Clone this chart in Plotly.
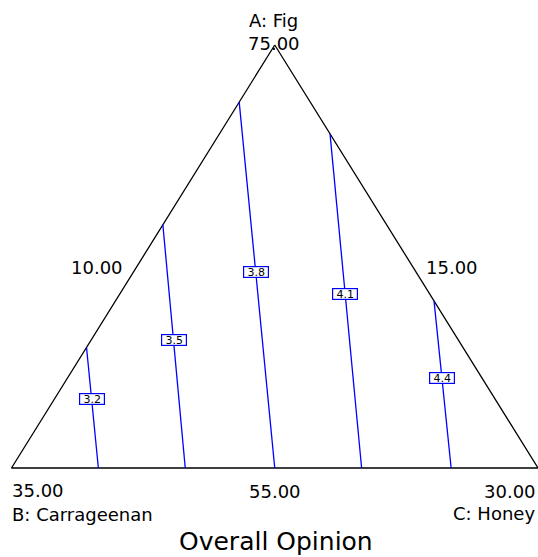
import plotly.graph_objects as go

# Mixture region (percent): A: Fig 55-75, B: Carrageenan 15-35, C: Honey 10-30
fig_lo, fig_hi = 55.0, 75.0
carr_lo, carr_hi = 15.0, 35.0
honey_lo, honey_hi = 10.0, 30.0
span = fig_hi - fig_lo

# Overall Opinion contour levels and the blends where each contour meets the region boundary
levels = [3.2, 3.5, 3.8, 4.1, 4.4]
start_fig = [60.7, 66.5, 72.3, 70.8, 62.9]
start_carr = [29.3, 23.5, 17.7, 15.0, 15.0]
start_honey = [10.0, 10.0, 10.0, 14.2, 22.1]
end_fig = [55.0, 55.0, 55.0, 55.0, 55.0]
end_carr = [31.7, 28.4, 25.0, 21.7, 18.3]
end_honey = [13.3, 16.6, 20.0, 23.3, 26.7]
label_frac = [0.43, 0.475, 0.463, 0.478, 0.464]

# Vertex and edge values printed around the simplex
vertex_fig = "75.00"
vertex_carr = "35.00"
vertex_honey = "30.00"
edge_ab = "10.00"   # Honey held at its minimum along the Fig-Carrageenan edge
edge_ac = "15.00"   # Carrageenan at its minimum along the Fig-Honey edge
edge_bc = "55.00"   # Fig at its minimum along the Carrageenan-Honey edge

W, H = 538, 557


def to_xy(a, b, c):
    """Project a blend (Fig, Carrageenan, Honey) onto the 2-D simplex."""
    ap = (a - fig_lo) / span
    cp = (c - honey_lo) / span
    return cp + ap / 2.0, ap


def px(x):
    return x / W


def py(y):
    return 1 - y / H


fig = go.Figure()

# Simplex outline
tri = [(fig_hi, carr_lo, honey_lo), (fig_lo, carr_hi, honey_lo),
       (fig_lo, carr_lo, honey_hi), (fig_hi, carr_lo, honey_lo)]
tx, ty = zip(*[to_xy(*p) for p in tri])
fig.add_trace(go.Scatter(x=tx, y=ty, mode="lines",
                         line=dict(color="black", width=1.3),
                         hoverinfo="skip", showlegend=False))

annotations = []
for i, lev in enumerate(levels):
    x0, y0 = to_xy(start_fig[i], start_carr[i], start_honey[i])
    x1, y1 = to_xy(end_fig[i], end_carr[i], end_honey[i])
    fig.add_trace(go.Scatter(x=[x0, x1], y=[y0, y1], mode="lines",
                             line=dict(color="#0000ff", width=1.3),
                             name=f"{lev:.1f}", showlegend=False))
    t = label_frac[i]
    annotations.append(dict(
        x=x0 + (x1 - x0) * t, y=y0 + (y1 - y0) * t, xref="x", yref="y",
        text=f"{lev:.1f}", showarrow=False,
        font=dict(family="DejaVu Sans", size=11, color="black"),
        bgcolor="white", bordercolor="#0000ff", borderwidth=1.2, borderpad=0,
        width=24, height=10,
    ))

small = dict(family="DejaVu Sans", size=18, color="black")
text_items = [
    ("A: Fig", 273, 20, "center", small),
    (vertex_fig, 274, 43, "center", small),
    (edge_ab, 97, 267, "center", small),
    (edge_ac, 452, 267, "center", small),
    (vertex_carr, 10, 490.5, "left", small),
    ("B: Carrageenan", 10, 514, "left", small),
    (edge_bc, 274.5, 491, "center", small),
    (vertex_honey, 538, 491, "right", small),
    ("C: Honey", 537, 513, "right", small),
    ("Overall Opinion", 276, 541, "center",
     dict(family="DejaVu Sans", size=25, color="black")),
]
for text, x, y, anchor, f in text_items:
    annotations.append(dict(x=px(x), y=py(y), xref="paper", yref="paper",
                            text=text, showarrow=False, xanchor=anchor,
                            yanchor="middle", font=f))

x_lo = -11.5 / 526.5
y_scale = H / 423.0
y_lo = -(1 - 468.0 / H) * y_scale
fig.update_layout(
    width=W, height=H,
    margin=dict(l=0, r=0, t=0, b=0),
    paper_bgcolor="white", plot_bgcolor="white",
    xaxis=dict(range=[x_lo, 1.0], visible=False, fixedrange=True),
    yaxis=dict(range=[y_lo, y_lo + y_scale], visible=False, fixedrange=True),
    annotations=annotations,
    showlegend=False,
)

fig.write_html("out.html")
